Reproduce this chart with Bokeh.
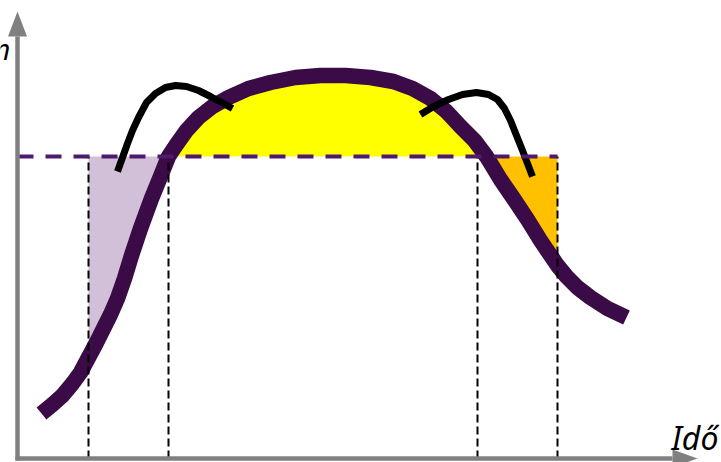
import numpy as np
from bokeh.plotting import figure
from bokeh.models import Range1d
from bokeh.core.properties import value
from bokeh.embed import file_html
from bokeh.resources import INLINE

# ---- data ----
curve_x = [2.4, 3.5, 4.5, 5.5, 6.3, 7.1, 7.8, 8.6, 9.3, 10.0, 10.7, 11.4, 12.3, 13.4, 14.3,
           15.1, 15.9, 16.9, 18.1, 19.5, 21.1, 23.1, 25.3, 27.8, 30.3, 32.8, 35.3, 37.6,
           39.5, 41.3, 42.9, 44.3, 45.7, 46.9, 48.3, 49.6, 51.0, 52.3, 54.0, 54.9, 56.0,
           57.3, 59.0, 60.9]
curve_y = [4.5, 5.4, 6.3, 7.5, 8.6, 10.1, 11.4, 13.0, 14.4, 16.0, 18.0, 20.3, 23.0, 26.0, 28.2,
           30.2, 31.4, 32.8, 34.1, 35.2, 36.1, 37.0, 37.6, 38.1, 38.3, 38.3, 38.1, 37.7,
           37.0, 36.0, 34.7, 33.2, 31.8, 30.2, 27.9, 26.0, 23.9, 21.8, 19.3, 18.2, 17.1,
           16.1, 15.0, 14.1]

left_arc_x = [10.0, 10.5, 11.0, 11.5, 12.1, 12.9, 13.8, 14.8, 15.8, 16.9, 18.1, 19.3, 20.4, 21.5]
left_arc_y = [28.7, 30.1, 31.5, 32.8, 34.1, 35.6, 36.5, 37.1, 37.3, 37.2, 36.8, 36.2, 35.6, 35.0]

right_arc_x = [40.3, 41.6, 43.1, 44.5, 45.9, 47.1, 48.0, 48.7, 49.3, 49.9, 50.5, 51.0, 51.5]
right_arc_y = [34.4, 35.2, 35.9, 36.4, 36.6, 36.4, 35.9, 35.0, 33.8, 32.3, 30.8, 29.5, 28.2]

level = 30.2
vlines_x = [7.1, 15.1, 46.0, 54.0]

y_axis_top = 42.2
y_arrow_tip = 44.7
x_axis_end = 65.5
x_arrow_tip = 68.0

x_label = "Idő"
y_label = "m"

# ---- figure ----
p = figure(width=721, height=462, output_backend="svg", toolbar_location=None,
           x_range=Range1d(-1.7, 70.4), y_range=Range1d(-0.4, 45.8),
           x_axis_type=None, y_axis_type=None, min_border=0)
p.grid.visible = False
p.outline_line_color = None
p.background_fill_color = "white"

cx = np.array(curve_x)
cy = np.array(curve_y)

# lavender region
m1 = (cx >= vlines_x[0]) & (cx <= vlines_x[1])
p.patch(np.r_[vlines_x[0], cx[m1][::-1]], np.r_[level, cy[m1][::-1]],
        fill_color="#d2bfd8", line_color=None)
# yellow region
m2 = cy >= level - 1e-9
p.patch(cx[m2], cy[m2], fill_color="#ffff00", line_color=None)
# orange region
m3 = (cx >= vlines_x[2]) & (cx <= vlines_x[3]) & (cy <= level + 1e-9)
p.patch(np.r_[cx[m3], vlines_x[3]], np.r_[cy[m3], level],
        fill_color="#ffc000", line_color=None)

# thick curve
p.line(curve_x, curve_y, line_color="#3b0b47", line_width=15.5,
       line_join="round", line_cap="butt")

# black arcs
p.line(left_arc_x, left_arc_y, line_color="black", line_width=7, line_cap="butt", line_join="round")
p.line(right_arc_x, right_arc_y, line_color="black", line_width=7, line_cap="butt", line_join="round")

# vertical dashed lines
p.segment(x0=vlines_x, y0=[0] * 4, x1=vlines_x, y1=[level] * 4,
          line_color="black", line_width=2, line_dash="8 4")

# horizontal dashed line
p.line([0, vlines_x[3]], [level, level], line_color="#4e1a6e", line_width=4, line_dash="16 12")

# axes
grey = "#808080"
p.line([0, 0], [-0.2, y_axis_top], line_color=grey, line_width=4.5)
p.line([-0.2, x_axis_end], [0, 0], line_color=grey, line_width=4.5)
p.patch([-0.95, 0.95, 0], [y_axis_top, y_axis_top, y_arrow_tip], fill_color=grey, line_color=None)
p.patch([x_axis_end, x_axis_end, x_arrow_tip], [0.9, -0.9, 0], fill_color=grey, line_color=None)

# labels
p.text(x=[65.4], y=[2.1], text=[x_label], text_font=value("Noto Sans"), text_font_style="italic",
       text_font_size="32px", text_align="left", text_baseline="alphabetic", text_color="black")
p.text(x=[-0.7], y=[41.0], text=[y_label], text_font=value("Noto Sans"), text_font_style="italic",
       text_font_size="29px", text_align="right", text_baseline="alphabetic", text_color="black")

open("out.html", "w").write(file_html(p, INLINE))
